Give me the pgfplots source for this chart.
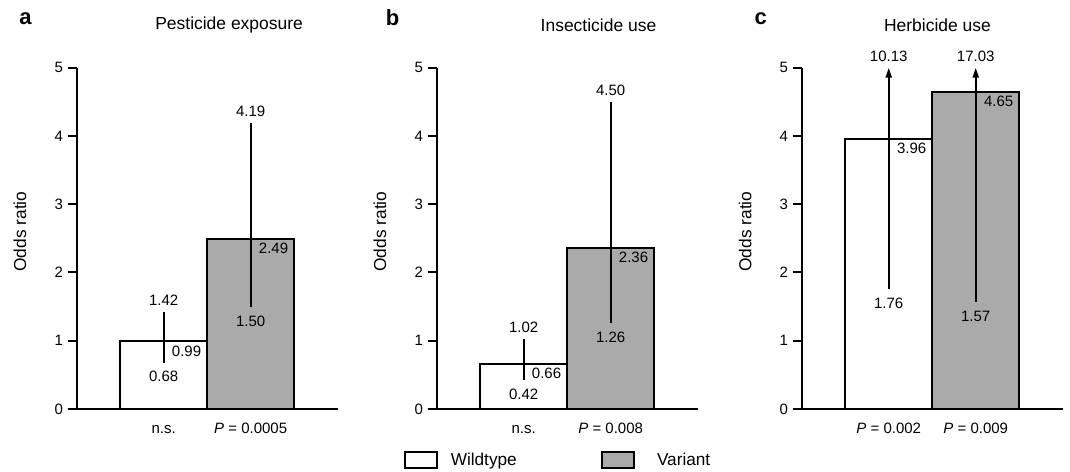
\documentclass[border=0pt]{standalone}
\usepackage{fontspec}
\setmainfont{Liberation Sans}
\usepackage{pgfplots}
\pgfplotsset{compat=1.18}
\usetikzlibrary{arrows.meta}

\definecolor{vargray}{RGB}{170,170,170}

\pgfplotsset{
  panel/.style={
    scale only axis, width=195.75pt, height=256pt,
    anchor=south west, clip=false,
    xmin=-1, xmax=2, ymin=0, ymax=5,
    axis lines*=left,
    axis line style={line width=1.5pt},
    xtick={0,1}, ytick={0,1,2,3,4,5},
    tick align=outside,
    major tick length=6.75pt,
    ytick style={line width=1.5pt, black},
    xtick style={draw=none},
    /pgf/number format/assume math mode=true,
    tick label style={font=\fontsize{11.25}{13}\selectfont},
    xticklabel style={anchor=north, inner sep=0pt, text height=8pt, yshift=-3.5pt},
    ylabel={Odds ratio},
    ylabel style={at={(axis description cs:-0.217,0.52)}, anchor=center,
      font=\fontsize{13}{15}\selectfont},
    every axis title/.style={anchor=center, font=\fontsize{13.1}{15}\selectfont},
  },
  wt/.style={ybar, bar width=1, bar shift=0pt, fill=white, draw=black, line width=1.5pt},
  var/.style={ybar, bar width=1, bar shift=0pt, fill=vargray, draw=black, line width=1.5pt},
  ci/.style={black, line width=1.5pt, forget plot},
  boxlegend/.style={legend image code/.code={
      \draw[##1, line width=1.5pt] (0pt,-6.2pt) rectangle (24.5pt,6.2pt);}},
}
\tikzset{
  vlab/.style={inner sep=0pt, font=\fontsize{11.25}{13}\selectfont},
  hi/.style={vlab, anchor=south, yshift=4.5pt},
  lo/.style={vlab, anchor=north, yshift=-6.5pt},
  mid/.style={vlab, anchor=north west, xshift=6pt, yshift=-3pt},
  letter/.style={anchor=base, font=\bfseries\fontsize{16.5}{18}\selectfont},
}

\begin{document}
\begin{tikzpicture}
\useasboundingbox (0,0) rectangle (802.5pt,353.25pt);

% a: pesticide exposure
\begin{axis}[panel, at={(57.5pt,46.5pt)},
  title={Pesticide exposure},
  title style={at={(axis description cs:0.584,1.125)}},
  xticklabels={n.s., {\textit{P} = 0.0005}}]
\addplot[wt] coordinates {(0,0.99)};
\addplot[var] coordinates {(1,2.49)};
\addplot[ci] coordinates {(0,0.68) (0,1.42)};
\addplot[ci] coordinates {(1,1.50) (1,4.19)};
\node[hi] at (axis cs:0,1.42) {1.42};
\node[mid] at (axis cs:0,0.99) {0.99};
\node[lo] at (axis cs:0,0.68) {0.68};
\node[hi] at (axis cs:1,4.19) {4.19};
\node[mid] at (axis cs:1,2.49) {2.49};
\node[lo] at (axis cs:1,1.50) {1.50};
\node[letter] at (axis description cs:-0.196,1.125) {a};
\end{axis}

% b: insecticide use
\begin{axis}[panel, at={(327.5pt,46.5pt)},
  title={Insecticide use},
  title style={at={(axis description cs:0.62,1.125)}},
  xticklabels={n.s., {\textit{P} = 0.008}},
  legend columns=2,
  legend style={draw=none, fill=none, at={(axis description cs:0.461,-0.149)},
    anchor=center, font=\fontsize{12.9}{15}\selectfont,
    nodes={inner sep=0pt},
    /tikz/column 1/.style={column sep=9.3pt},
    /tikz/column 2/.style={column sep=63pt},
    /tikz/column 3/.style={column sep=16.2pt}}]
\addplot[wt, boxlegend] coordinates {(0,0.66)};
\addlegendentry{Wildtype}
\addplot[var, boxlegend] coordinates {(1,2.36)};
\addlegendentry{Variant}
\addplot[ci] coordinates {(0,0.42) (0,1.02)};
\addplot[ci] coordinates {(1,1.26) (1,4.50)};
\node[hi] at (axis cs:0,1.02) {1.02};
\node[mid] at (axis cs:0,0.66) {0.66};
\node[lo] at (axis cs:0,0.42) {0.42};
\node[hi] at (axis cs:1,4.50) {4.50};
\node[mid] at (axis cs:1,2.36) {2.36};
\node[lo] at (axis cs:1,1.26) {1.26};
\node[letter] at (axis description cs:-0.169,1.125) {b};
\end{axis}

% c: herbicide use (upper limits 10.13 and 17.03 are off the scale)
\begin{axis}[panel, at={(601.3pt,46.5pt)},
  title={Herbicide use},
  title style={at={(axis description cs:0.52,1.125)}},
  xticklabels={{\textit{P} = 0.002}, {\textit{P} = 0.009}}]
\addplot[wt] coordinates {(0,3.96)};
\addplot[var] coordinates {(1,4.65)};
\addplot[ci, -{Triangle[length=7.5pt,width=4.5pt]}] coordinates {(0,1.76) (0,5)};
\addplot[ci, -{Triangle[length=7.5pt,width=4.5pt]}] coordinates {(1,1.57) (1,5)};
\node[hi] at (axis cs:0,5) {10.13};
\node[mid] at (axis cs:0,3.96) {3.96};
\node[lo] at (axis cs:0,1.76) {1.76};
\node[hi] at (axis cs:1,5) {17.03};
\node[mid] at (axis cs:1,4.65) {4.65};
\node[lo] at (axis cs:1,1.57) {1.57};
\node[letter] at (axis description cs:-0.157,1.125) {c};
\end{axis}
\end{tikzpicture}
\end{document}
